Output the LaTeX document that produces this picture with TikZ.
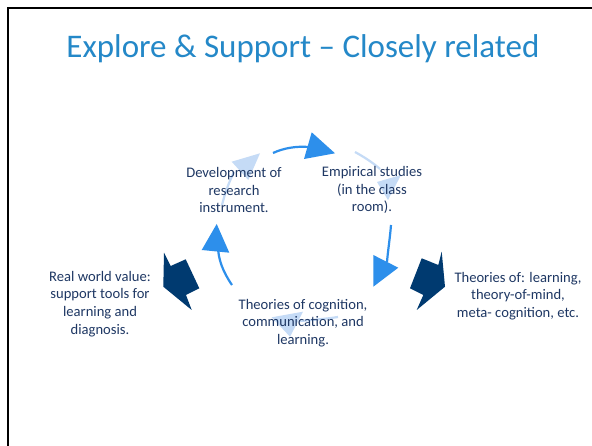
\documentclass[tikz,border=0pt]{standalone}
\usepackage{fontspec}
\setmainfont{Carlito}
\definecolor{titleblue}{RGB}{36,136,200}
\definecolor{textnavy}{RGB}{31,56,100}
\definecolor{cycleblue}{RGB}{45,143,235}
\definecolor{cyclelight}{RGB}{197,219,246}
\definecolor{blocknavy}{RGB}{0,58,112}

\begin{document}
\begin{tikzpicture}[x=1pt,y=-1pt,
  bodytext/.style={text=textnavy,align=center,inner sep=0pt,font=\fontsize{14.6}{17.7}\selectfont},
  brightline/.style={color=cycleblue,line width=2.2pt},
  lightline/.style={color=cyclelight,line width=2.2pt},
  blockarrow/.style={fill=blocknavy,draw=none}]
\useasboundingbox (0,0) rectangle (592,446);
\fill[white] (0,0) rectangle (592,446);
% Drawing slide frame
\draw[line width=2pt,color=black] (8,446) -- (8,8) -- (592,8);
% Title
\node[text=titleblue,inner sep=0pt,font=\fontsize{33}{38}\selectfont] (title) at (303,49) {Explore \& Support -- Closely related};
% Drawing cycle arrows (light ones first, text lies over them)
% Light 1: from empirical studies downwards
\coordinate (l1a) at (355,152);
\coordinate (l1b) at (380,169);
\draw[lightline] (l1a) .. controls (364,157) and (372,162) .. (l1b);
\fill[cyclelight] (377,182) -- (401,175) -- (388,200) -- cycle;
% Light 2: into development of research instrument
\coordinate (l2a) at (222,205);
\coordinate (l2b) at (234,172);
\draw[lightline] (l2a) .. controls (225,193) and (229,182) .. (l2b);
\fill[cyclelight] (231.7,161.7) -- (260,153.3) -- (248.3,180) -- cycle;
% Light 3: under the theories of cognition
\coordinate (l3a) at (338,317);
\coordinate (l3b) at (300,321);
\draw[lightline] (l3a) .. controls (325,319) and (312,320) .. (l3b);
\fill[cyclelight] (271.7,317.3) -- (303,311.7) -- (290,336.7) -- cycle;
% Bright 1: development -> empirical studies
\coordinate (b1a) at (273,153);
\coordinate (b1b) at (309,147);
\draw[brightline] (b1a) .. controls (284,148) and (296,146) .. (b1b);
\fill[cycleblue] (311.7,132.3) -- (335,153.3) -- (304,159) -- cycle;
% Bright 2: empirical studies -> downwards
\coordinate (b2a) at (391,225);
\coordinate (b2b) at (387,262);
\draw[brightline] (b2a) .. controls (390,238) and (388,250) .. (b2b);
\fill[cycleblue] (373.3,255) -- (398.3,267.7) -- (373.3,286.7) -- cycle;
% Bright 3: theories of cognition -> development
\coordinate (b3a) at (232,285);
\coordinate (b3b) at (218,246);
\draw[brightline] (b3a) .. controls (223,272) and (218,259) .. (b3b);
\fill[cycleblue] (201.7,250) -- (216.7,224) -- (229.3,252.7) -- cycle;
% Drawing notched block arrows
\fill[blockarrow] (164,252.7) -- (170.7,266) -- (185.7,259.3) -- (199.3,288.3) -- (186,295) -- (191.7,310) -- (163.3,286.7) -- cycle;
\fill[blockarrow] (441.7,251.7) -- (438.3,265) -- (421.7,258.3) -- (410,288.3) -- (423.3,295) -- (416.7,310) -- (445,286.7) -- cycle;
% Drawing labels
\node[bodytext] (develop) at (234,190) {Development of\\research\\instrument.};
\node[bodytext] (empirical) at (372,190) {Empirical studies\\(in the class\\room).};
\node[bodytext] (cognition) at (303,323) {Theories of cognition,\\communication, and\\learning.};
\node[bodytext] (realworld) at (100,304) {Real world value:\\support tools for\\learning and\\diagnosis.};
\node[bodytext] (theories) at (518,296) {Theories of: learning,\\theory-of-mind,\\meta- cognition, etc.};
% Done with labels
\end{tikzpicture}
\end{document}
